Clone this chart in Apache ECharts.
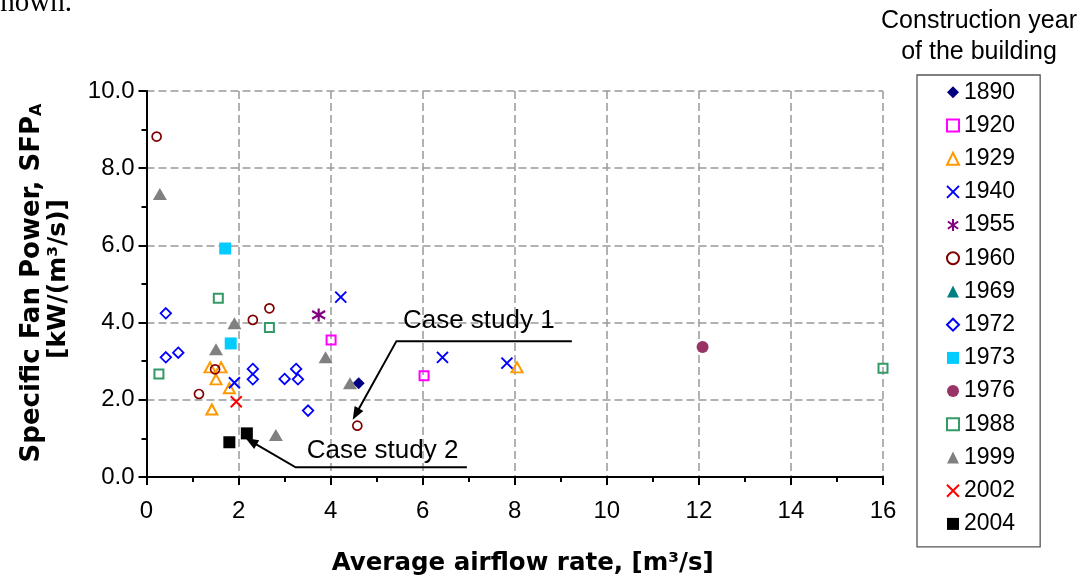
<!DOCTYPE html>
<html><head><meta charset="utf-8">
<script src="https://cdn.jsdelivr.net/npm/echarts@6/dist/echarts.min.js"></script>
<style>html,body{margin:0;padding:0;background:#fff}#c{width:1085px;height:581px}</style>
</head><body><div id="c"></div>
<script>
// ---- data ----
const years = ['1890','1920','1929','1940','1955','1960','1969','1972','1973','1976','1988','1999','2002','2004'];
const d1890 = [[4.61,2.43]];
const d1920 = [[4.01,3.55],[6.03,2.62]];
const d1929 = [[1.38,2.84],[1.62,2.84],[1.51,2.53],[1.80,2.30],[1.42,1.75],[8.05,2.84]];
const d1940 = [[1.91,2.44],[4.22,4.66],[6.43,3.10],[7.83,2.95]];
const d1955 = [[3.74,4.20]];
const d1960 = [[0.22,8.82],[2.31,4.07],[2.67,4.37],[1.49,2.79],[1.14,2.15],[4.58,1.33]];
const d1969 = [];
const d1972 = [[0.42,4.24],[0.42,3.10],[0.69,3.22],[2.31,2.80],[2.31,2.53],[3.00,2.54],[3.25,2.80],[3.29,2.53],[3.51,1.72]];
const d1973 = [[1.71,5.92],[1.83,3.46]];
const d1976 = [[12.08,3.37]];
const d1988 = [[1.56,4.63],[2.67,3.87],[0.27,2.67],[16.0,2.82]];
const d1999 = [[0.29,7.33],[1.91,3.98],[1.51,3.31],[3.89,3.10],[4.42,2.43],[2.81,1.09]];
const d2002 = [[1.95,1.95]];
const d2004 = [[1.80,0.90],[2.18,1.13]];
const xRange = [0, 16, 2];
const yRange = [0, 10, 2];
const xTitle = 'Average airflow rate, [m³/s]';
const yTitle1 = 'Specific Fan Power, SFP';
const yTitleSub = 'A';
const yTitle2 = '[kW/(m³/s)]';
const legendTitle = ['Construction year', 'of the building'];
// annotations in data coordinates: label anchor (left, vertical middle), then polyline ending at arrow tip
const case1Label = 'Case study 1';
const case1Anchor = [5.57, 4.04];
const case1Path = [[9.24,3.52],[5.43,3.52],[4.48,1.48]];
const case2Label = 'Case study 2';
const case2Anchor = [3.48, 0.69];
const case2Path = [[6.96,0.25],[3.24,0.25],[2.15,1.01]];

// ---- styles ----
const X_PATH = 'path://M0,0L10,10M10,0L0,10';
const AST_PATH = 'path://M5,0L5,10M0.7,2L9.3,8M0.7,8L9.3,2';
function s(name, data, symbol, size, color, hollow, bw) {
  return {
    name, type: 'scatter', data, symbol, symbolSize: size,
    itemStyle: hollow ? {color: 'transparent', borderColor: color, borderWidth: bw || 2, opacity: 1}
                      : {color: color, borderWidth: 0, opacity: 1},
    emphasis: {disabled: true}, z: 3
  };
}
const series = [
  s(years[0], d1890, 'diamond', 12, '#000080', false),
  s(years[1], d1920, 'rect', 9, '#FF00FF', true),
  s(years[2], d1929, 'triangle', [11,10], '#FF9900', true),
  s(years[3], d1940, X_PATH, 11, '#0000FF', true),
  s(years[4], d1955, AST_PATH, 13, '#800080', true, 2.2),
  s(years[5], d1960, 'circle', 9, '#800000', true, 1.7),
  s(years[6], d1969, 'triangle', [13,12], '#008080', false),
  s(years[7], d1972, 'diamond', 10.5, '#0000FF', true, 1.8),
  s(years[8], d1973, 'rect', 12, '#00CCFF', false),
  s(years[9], d1976, 'circle', 12, '#993366', false),
  s(years[10], d1988, 'rect', 9, '#339966', true),
  s(years[11], d1999, 'triangle', [14,12], '#808080', false),
  s(years[12], d2002, X_PATH, 11, '#FF0000', true),
  s(years[13], d2004, 'rect', 12, '#000000', false)
];

const chart = echarts.init(document.getElementById('c'), null, {renderer: 'canvas'});
const axisCommon = {
  axisLine: {show: true, onZero: false, lineStyle: {color: '#000', width: 2}},
  axisTick: {show: true, length: 8, lineStyle: {color: '#000', width: 2}},
  minorTick: {show: true, splitNumber: 2, length: 5, lineStyle: {color: '#000', width: 2}},
  splitLine: {show: true, lineStyle: {color: '#999', width: 1.5, type: [8, 4]}},
  axisLabel: {color: '#000', fontSize: 24, fontFamily: 'Liberation Sans'}
};
chart.setOption({
  animation: false,
  backgroundColor: '#fff',
  grid: {left: 146.5, right: 202, top: 91, bottom: 104, containLabel: false},
  xAxis: Object.assign({}, axisCommon, {
    type: 'value', min: xRange[0], max: xRange[1], interval: xRange[2],
    axisLabel: Object.assign({}, axisCommon.axisLabel, {margin: 22})
  }),
  yAxis: Object.assign({}, axisCommon, {
    type: 'value', min: yRange[0], max: yRange[1], interval: yRange[2],
    axisLabel: Object.assign({}, axisCommon.axisLabel, {margin: 12, formatter: v => v.toFixed(1)})
  }),
  legend: {
    orient: 'vertical', left: 917, top: 75,
    data: years,
    itemWidth: 12, itemHeight: 12, itemGap: 9.2, itemTextGap: 9,
    padding: [5.3, 25, 11, 29],
    borderColor: '#555', borderWidth: 1.3, backgroundColor: '#fff',
    selectedMode: false,
    textStyle: {color: '#000', fontSize: 23, fontFamily: 'Liberation Sans', lineHeight: 24}
  },
  series
});

function px(p) { return chart.convertToPixel({gridIndex: 0}, p); }
function arrowGraphics(path) {
  const pts = path.map(px);
  const tip = pts[pts.length - 1], prev = pts[pts.length - 2];
  const dx = tip[0] - prev[0], dy = tip[1] - prev[1];
  const len = Math.hypot(dx, dy), ux = dx / len, uy = dy / len;
  const L = 13, W = 5;
  const bx = tip[0] - ux * L, by = tip[1] - uy * L;
  const lineEnd = [tip[0] - ux * (L - 2), tip[1] - uy * (L - 2)];
  return [
    {type: 'polyline', shape: {points: pts.slice(0, -1).concat([lineEnd])}, style: {stroke: '#000', lineWidth: 2, fill: null}, z: 10},
    {type: 'polygon', shape: {points: [tip, [bx - uy * W, by + ux * W], [bx + uy * W, by - ux * W]]}, style: {fill: '#000'}, z: 10}
  ];
}
const a1 = px(case1Anchor), a2 = px(case2Anchor);
const grid = chart.getModel().getComponent('grid').coordinateSystem.getRect();
const yMid = grid.y + grid.height / 2 - 5;
const g = [
  {type: 'text', x: -11, y: 3.5, style: {text: 'shown.', font: '29px "Liberation Serif"', fill: '#000', verticalAlign: 'middle', textVerticalAlign: 'middle'}},
  {type: 'text', x: 979, y: 21, style: {text: legendTitle[0], font: '25px "Liberation Sans"', fill: '#000', align: 'center', textAlign: 'center', verticalAlign: 'middle', textVerticalAlign: 'middle'}},
  {type: 'text', x: 979, y: 52, style: {text: legendTitle[1], font: '25px "Liberation Sans"', fill: '#000', align: 'center', textAlign: 'center', verticalAlign: 'middle', textVerticalAlign: 'middle'}},
  {type: 'text', x: grid.x + grid.width / 2 + 8, y: 564, style: {text: xTitle, font: 'bold 24.5px "DejaVu Sans"', fill: '#000', align: 'center', textAlign: 'center', verticalAlign: 'middle', textVerticalAlign: 'middle'}},
  {type: 'text', x: 31, y: yMid + 4, rotation: Math.PI / 2,
   style: {text: '{a|' + yTitle1 + '}{s|' + yTitleSub + '}', fill: '#000', align: 'center', textAlign: 'center', verticalAlign: 'middle', textVerticalAlign: 'middle',
     rich: {a: {font: 'bold 26px "DejaVu Sans"', fill: '#000', lineHeight: 28, verticalAlign: 'bottom'},
            s: {font: 'bold 16px "DejaVu Sans"', fill: '#000', lineHeight: 14, verticalAlign: 'bottom'}}}},
  {type: 'text', x: 58, y: yMid, rotation: Math.PI / 2,
   style: {text: yTitle2, font: 'bold 25px "DejaVu Sans"', fill: '#000', align: 'center', textAlign: 'center', verticalAlign: 'middle', textVerticalAlign: 'middle'}},
  {type: 'text', x: a1[0], y: a1[1], style: {text: case1Label, font: '26px "Liberation Sans"', fill: '#000', verticalAlign: 'middle', textVerticalAlign: 'middle'}, z: 11},
  {type: 'text', x: a2[0], y: a2[1], style: {text: case2Label, font: '26px "Liberation Sans"', fill: '#000', verticalAlign: 'middle', textVerticalAlign: 'middle'}, z: 11}
].concat(arrowGraphics(case1Path), arrowGraphics(case2Path));
chart.setOption({graphic: g});
</script></body></html>
